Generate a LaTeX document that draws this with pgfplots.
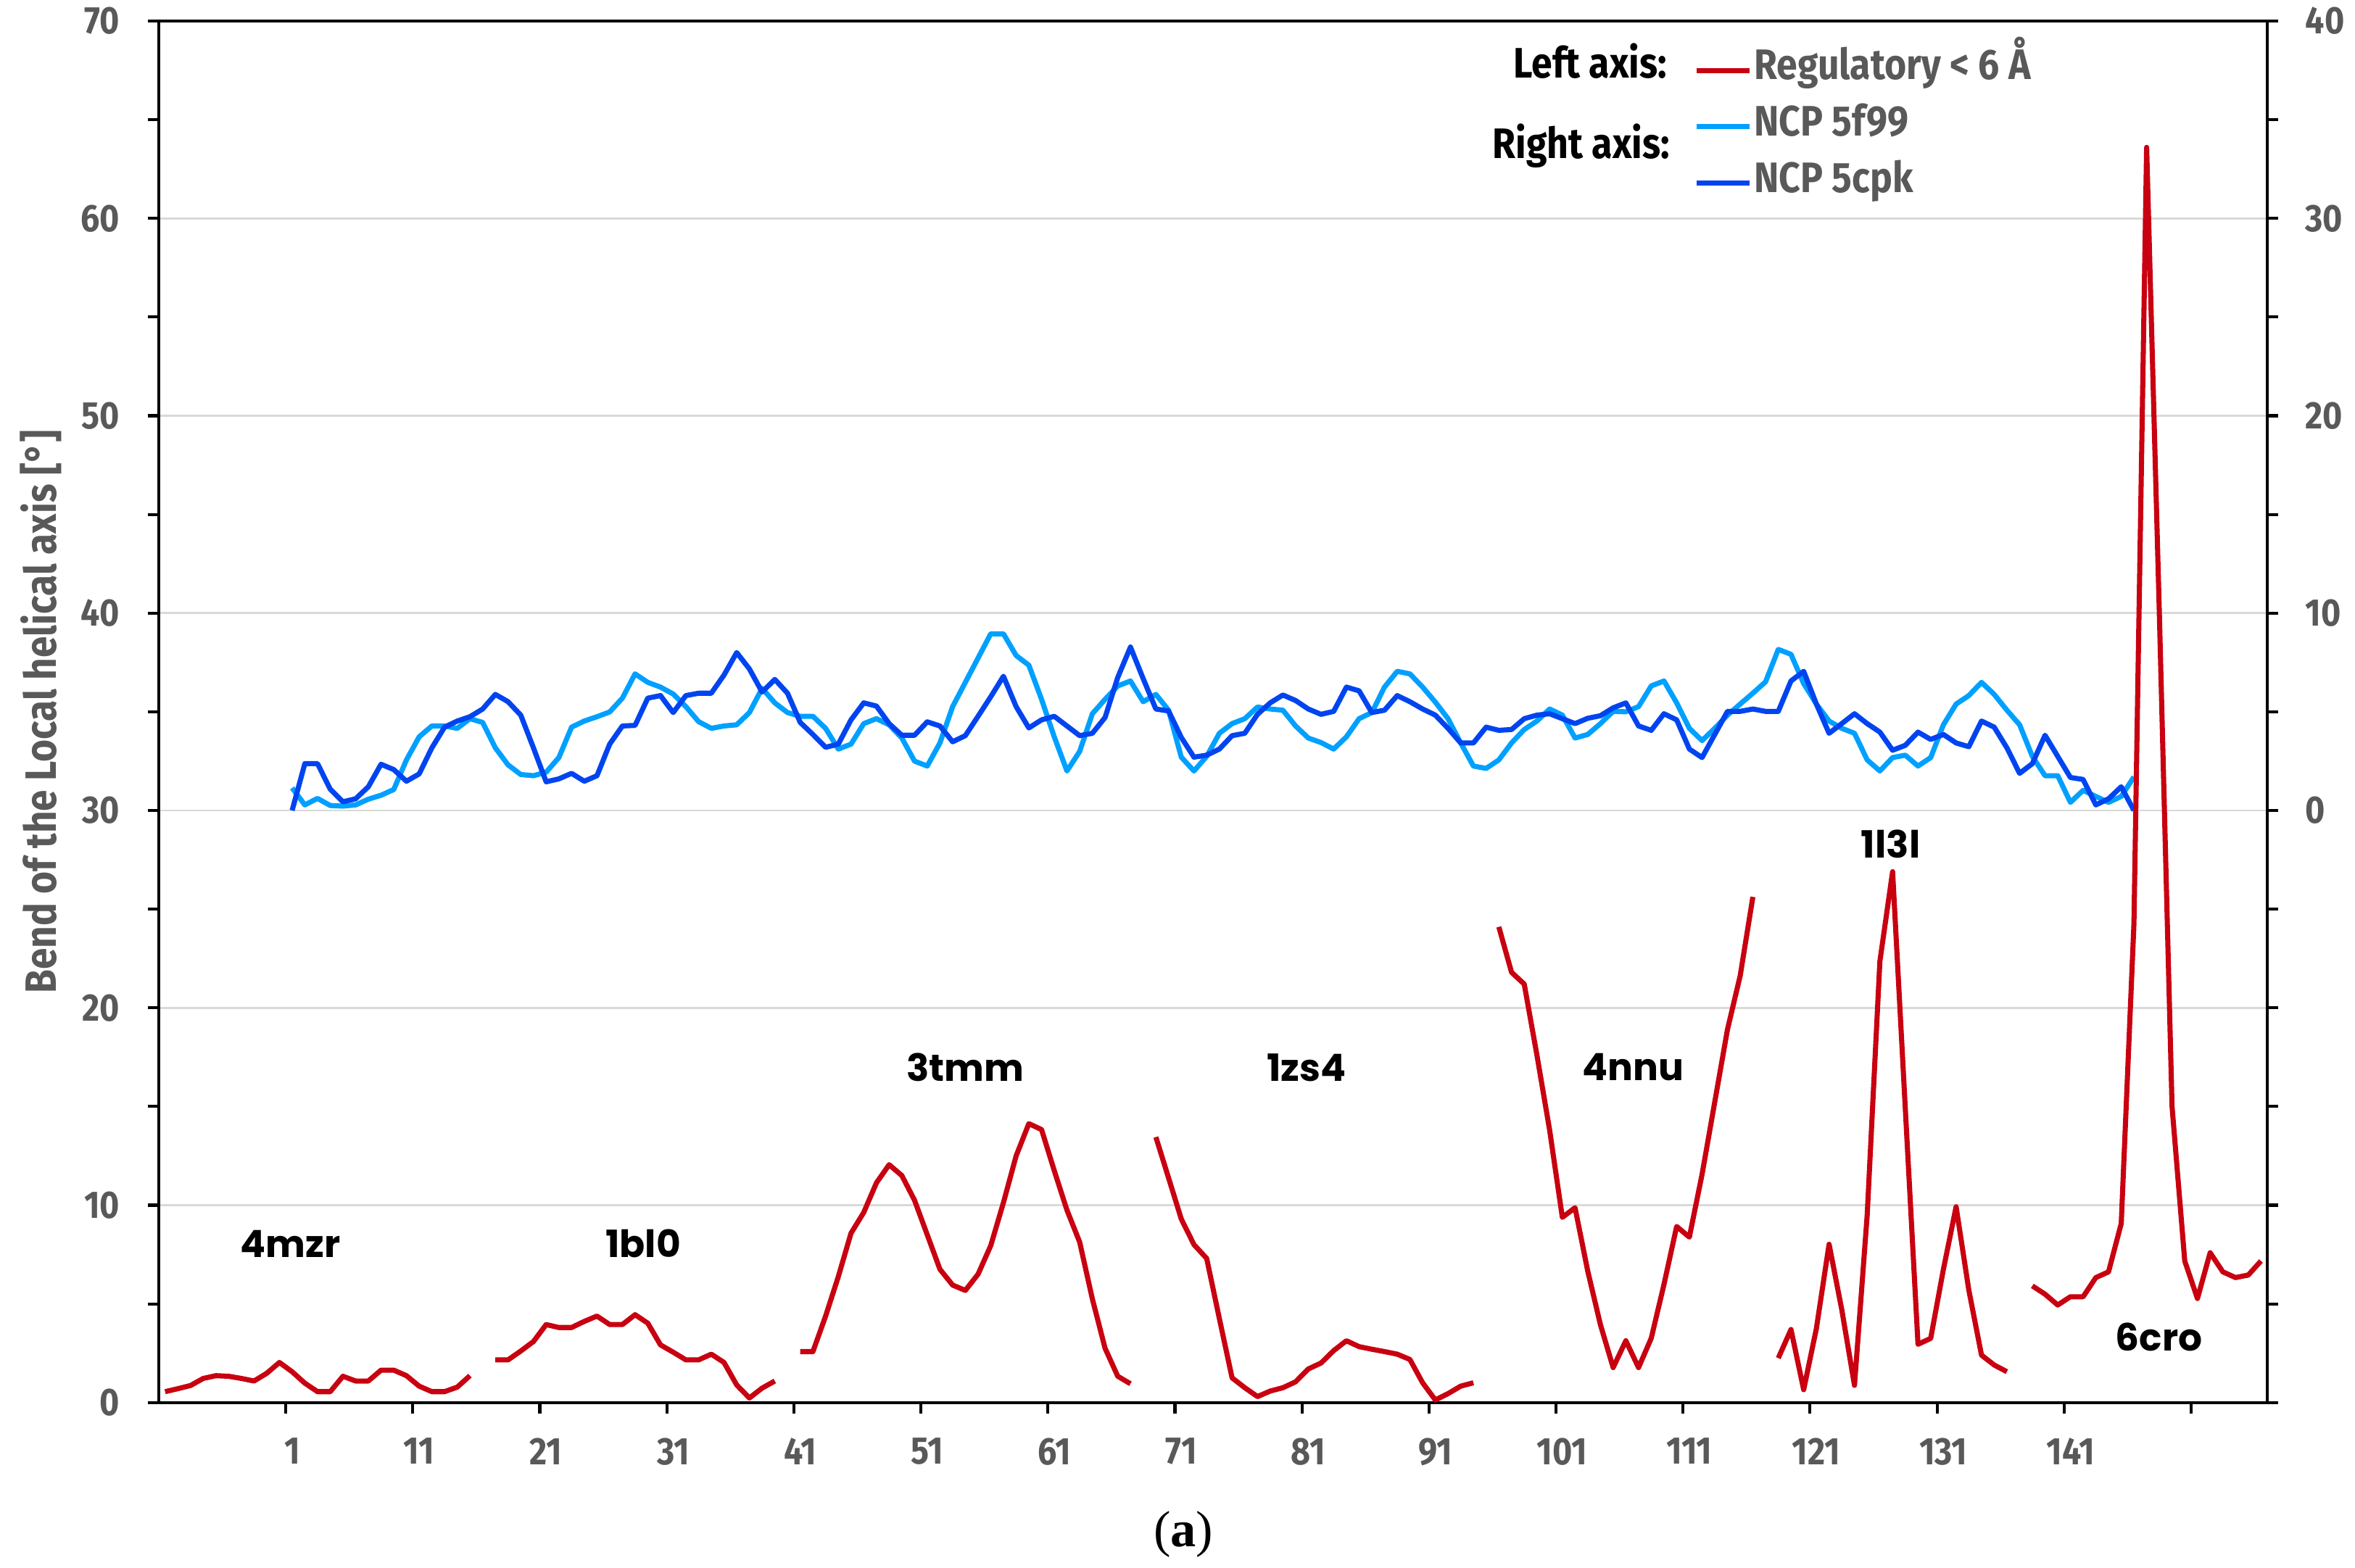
\documentclass[border=0pt]{standalone}
\usepackage{fontspec}
\usepackage{pgfplots}
\pgfplotsset{compat=1.18}
\newfontfamily\cond{Fira Sans}[FakeStretch=0.88]
\newfontfamily\lbl{Poppins}
\newfontfamily\serif{Liberation Serif}
\definecolor{redc}{RGB}{200,0,16}
\definecolor{lblue}{RGB}{0,160,255}
\definecolor{dblue}{RGB}{0,68,240}
\definecolor{tgray}{RGB}{89,89,89}
\definecolor{ggray}{RGB}{217,217,217}
\newcommand{\tickfont}{\cond\bfseries\fontsize{12.8}{15}\selectfont}
\newcommand{\lblfont}{\lbl\bfseries\fontsize{12.5}{14}\selectfont}
\newcommand{\legfont}{\cond\bfseries\fontsize{14.2}{16}\selectfont}

\pgfplotstableread{
x y
1 1.14
2 0.28
3 0.61
4 0.25
5 0.22
6 0.28
7 0.57
8 0.77
9 1.06
10 2.56
11 3.73
12 4.28
13 4.28
14 4.16
15 4.65
16 4.46
17 3.17
18 2.31
19 1.82
20 1.76
21 1.94
22 2.68
23 4.22
24 4.53
25 4.75
26 4.99
27 5.69
28 6.92
29 6.49
30 6.25
31 5.90
32 5.26
33 4.50
34 4.16
35 4.28
36 4.34
37 4.96
38 6.19
39 5.45
40 4.96
41 4.77
42 4.77
43 4.16
44 3.11
45 3.36
46 4.40
47 4.65
48 4.34
49 3.67
50 2.50
51 2.25
52 3.42
53 5.26
54 6.49
55 7.72
56 8.95
57 8.95
58 7.85
59 7.36
60 5.63
61 3.73
62 2.00
63 2.99
64 4.90
65 5.63
66 6.31
67 6.56
68 5.51
69 5.88
70 5.08
71 2.70
72 2.00
73 2.74
74 3.91
75 4.40
76 4.65
77 5.24
78 5.14
79 5.08
80 4.28
81 3.67
82 3.44
83 3.11
84 3.73
85 4.65
86 4.96
87 6.25
88 7.05
89 6.92
90 6.25
91 5.49
92 4.65
93 3.42
94 2.25
95 2.13
96 2.56
97 3.42
98 4.10
99 4.53
100 5.14
101 4.83
102 3.67
103 3.85
104 4.40
105 5.02
106 5.00
107 5.26
108 6.31
109 6.56
110 5.45
111 4.16
112 3.54
113 4.16
114 4.83
115 5.39
116 5.94
117 6.52
118 8.16
119 7.91
120 6.43
121 5.39
122 4.53
123 4.16
124 3.91
125 2.56
126 2.00
127 2.68
128 2.80
129 2.25
130 2.68
131 4.34
132 5.39
133 5.82
134 6.49
135 5.88
136 5.08
137 4.34
138 2.74
139 1.76
140 1.76
141 0.41
142 1.02
143 0.71
144 0.41
145 0.71
146 1.70
}\lightdata

\pgfplotstableread{
x y
1 0.00
2 2.37
3 2.37
4 1.08
5 0.44
6 0.59
7 1.20
8 2.34
9 2.07
10 1.48
11 1.85
12 3.17
13 4.22
14 4.53
15 4.75
16 5.14
17 5.88
18 5.51
19 4.83
20 3.17
21 1.45
22 1.60
23 1.88
24 1.48
25 1.76
26 3.36
27 4.28
28 4.31
29 5.69
30 5.82
31 4.96
32 5.82
33 5.94
34 5.94
35 6.86
36 8.00
37 7.17
38 6.00
39 6.64
40 5.94
41 4.46
42 3.85
43 3.20
44 3.36
45 4.59
46 5.45
47 5.29
48 4.40
49 3.81
50 3.81
51 4.49
52 4.28
53 3.48
54 3.79
55 4.77
56 5.76
57 6.80
58 5.26
59 4.18
60 4.59
61 4.77
62 4.28
63 3.79
64 3.91
65 4.71
66 6.74
67 8.28
68 6.68
69 5.14
70 5.04
71 3.70
72 2.70
73 2.80
74 3.11
75 3.79
76 3.91
77 4.87
78 5.45
79 5.85
80 5.57
81 5.14
82 4.87
83 5.02
84 6.25
85 6.06
86 4.96
87 5.08
88 5.82
89 5.51
90 5.14
91 4.83
92 4.16
93 3.42
94 3.42
95 4.22
96 4.06
97 4.10
98 4.65
99 4.83
100 4.90
101 4.65
102 4.40
103 4.67
104 4.80
105 5.20
106 5.45
107 4.28
108 4.06
109 4.90
110 4.59
111 3.11
112 2.68
113 3.85
114 5.02
115 5.02
116 5.14
117 5.02
118 5.02
119 6.56
120 7.05
121 5.39
122 3.91
123 4.40
124 4.90
125 4.40
126 3.97
127 3.05
128 3.30
129 3.97
130 3.60
131 3.85
132 3.42
133 3.23
134 4.53
135 4.22
136 3.17
137 1.88
138 2.37
139 3.81
140 2.74
141 1.67
142 1.57
143 0.28
144 0.59
145 1.20
146 0.00
}\darkdata

\pgfplotstableread{
x y
-9 0.55
-8 0.70
-7 0.86
-6 1.22
-5 1.36
-4 1.33
-3 1.22
-2 1.09
-1 1.48
0 2.03
1 1.56
2 0.98
3 0.55
4 0.55
5 1.33
6 1.09
7 1.09
8 1.64
9 1.64
10 1.36
11 0.83
12 0.55
13 0.55
14 0.78
15 1.36
16 nan
17 2.16
18 2.16
19 2.61
20 3.09
21 3.95
22 3.80
23 3.80
24 4.11
25 4.38
26 3.95
27 3.95
28 4.45
29 4.02
30 2.92
31 2.55
32 2.16
33 2.16
34 2.45
35 2.03
36 0.89
37 0.23
38 0.73
39 1.09
40 nan
41 2.58
42 2.58
43 4.38
44 6.38
45 8.58
46 9.63
47 11.13
48 12.05
49 11.50
50 10.25
51 8.50
52 6.75
53 5.95
54 5.68
55 6.50
56 7.95
57 10.13
58 12.50
59 14.13
60 13.83
61 11.75
62 9.75
63 8.13
64 5.25
65 2.75
66 1.33
67 0.95
68 nan
69 13.45
70 11.38
71 9.30
72 8.00
73 7.30
74 4.25
75 1.25
76 0.75
77 0.30
78 0.58
79 0.75
80 1.05
81 1.70
82 2.00
83 2.63
84 3.13
85 2.83
86 2.70
87 2.58
88 2.45
89 2.18
90 1.00
91 0.13
92 0.45
93 0.83
94 1.00
95 nan
96 24.10
97 21.80
98 21.20
99 17.60
100 13.80
101 9.38
102 9.87
103 6.66
104 3.94
105 1.77
106 3.13
107 1.77
108 3.26
109 5.98
110 8.92
111 8.38
112 11.56
113 15.23
114 18.90
115 21.62
116 25.62
117 nan
118 2.25
119 3.70
120 0.65
121 3.75
122 8.02
123 4.70
124 0.87
125 9.50
126 22.36
127 26.90
128 14.90
129 2.95
130 3.25
131 6.75
132 9.92
133 5.70
134 2.40
135 1.90
136 1.56
137 nan
138 5.91
139 5.49
140 4.94
141 5.36
142 5.36
143 6.33
144 6.62
145 9.07
146 24.26
147 63.60
148 40.00
149 15.00
150 7.17
151 5.27
152 7.59
153 6.62
154 6.33
155 6.46
156 7.17
}\reddata

\begin{document}
\begin{tikzpicture}
\path[use as bounding box] (-52.85pt,-55pt) rectangle (731.15pt,467pt);
% right axis (NCP), with the grid
\begin{axis}[
  scale only axis, width=701.95pt, height=460pt,
  xmin=-9.5, xmax=156.5, ymin=-30, ymax=40,
  axis x line=none, axis y line*=right,
  ytick={-30,-20,...,40}, yticklabels={,,,0,10,20,30,40},
  minor ytick={-25,-15,...,35},
  ymajorgrids, major grid style={ggray, line width=0.7pt},
  tick align=outside, major tick length=3.7pt, minor tick length=3.7pt,
  every tick/.append style={black, line width=1pt},
  axis line style={black, line width=1pt},
  yticklabel style={font=\tickfont, text=tgray, anchor=west, inner sep=0pt, xshift=8.8pt},
]
\addplot[lblue, line width=1.7pt, line join=round] table[x=x,y=y] {\lightdata};
\addplot[dblue, line width=1.7pt, line join=round] table[x=x,y=y] {\darkdata};
\end{axis}
% left axis (regulatory)
\begin{axis}[
  scale only axis, width=701.95pt, height=460pt,
  xmin=-9.5, xmax=156.5, ymin=0, ymax=70,
  axis lines=box, xtick pos=bottom, ytick pos=left,
  xtick={1,11,...,141},
  xticklabels={1,11,21,31,41,51,61,71,81,91,101,111,121,131,141},
  minor xtick={0.5,10.5,...,150.5},
  major x tick style={draw=none},
  ytick={0,10,...,70}, yticklabels={0,10,20,30,40,50,60,70},
  minor ytick={5,15,...,65},
  tick align=outside, major tick length=3.7pt, minor tick length=3.7pt,
  every tick/.append style={black, line width=1pt},
  axis line style={black, line width=1pt},
  yticklabel style={font=\tickfont, text=tgray, anchor=east, inner sep=0pt, xshift=-9.1pt},
  xticklabel style={font=\tickfont, text=tgray, anchor=north, inner sep=0pt, yshift=-8.0pt},
  unbounded coords=jump,
  legend image code/.code={\draw[#1] (0pt,0pt) -- (17.5pt,0pt);},
  legend cell align=left,
  legend style={at={(rel axis cs:0.7282,1)}, anchor=north west, yshift=-7.1pt,
    draw=none, fill=none, inner sep=0pt, outer sep=0pt, row sep=0pt,
    font=\legfont, text=tgray,
    nodes={inner xsep=0.8pt, inner ysep=0pt, text height=12.375pt, text depth=6.375pt}},
]
\addplot[redc, line width=1.7pt, line join=round] table[x=x,y=y] {\reddata};
\addlegendentry{Regulatory < 6 Å}
\addlegendimage{lblue, line width=1.7pt}
\addlegendentry{NCP 5f99}
\addlegendimage{dblue, line width=1.7pt}
\addlegendentry{NCP 5cpk}
\node[font=\lblfont, anchor=base] at (axis cs:0.88,7.37) {4mzr};
\node[font=\lblfont, anchor=base] at (axis cs:28.64,7.37) {1bl0};
\node[font=\lblfont, anchor=base] at (axis cs:54.0,16.29) {3tmm};
\node[font=\lblfont, anchor=base] at (axis cs:80.86,16.29) {1zs4};
\node[font=\lblfont, anchor=base] at (axis cs:106.57,16.32) {4nnu};
\node[font=\lblfont, anchor=base] at (axis cs:126.85,27.59) {1l3l};
\node[font=\lblfont, anchor=base] at (axis cs:147.97,2.62) {6cro};
\end{axis}
\node[font=\legfont, anchor=mid east, inner sep=0pt] at (502.2pt,443.3pt) {Left axis:};
\node[font=\legfont, anchor=mid east, inner sep=0pt] at (503.2pt,416.3pt) {Right axis:};
\node[font=\cond\bfseries\fontsize{14.6}{17}\selectfont, text=tgray, rotate=90] at (-39.35pt,230pt) {Bend of the Local helical axis [°]};
\node[font=\serif\fontsize{17}{20}\selectfont] at (341.15pt,-44pt) {(\textbf{a})};
\end{tikzpicture}
\end{document}
